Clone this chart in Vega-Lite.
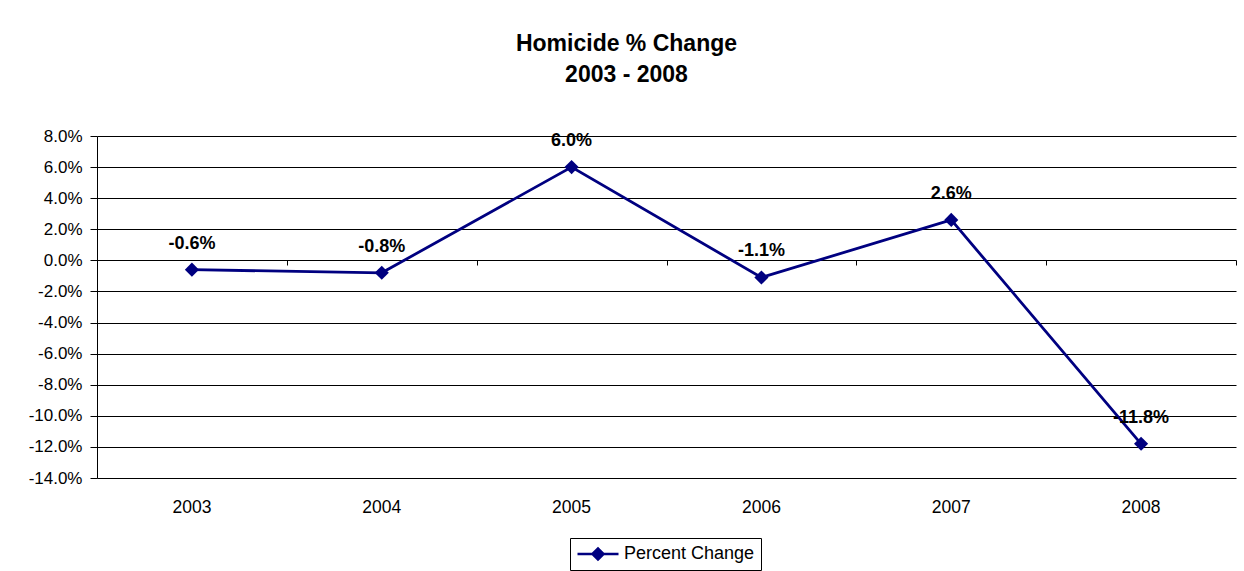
{
  "$schema": "https://vega.github.io/schema/vega-lite/v6.json",
  "width": 1139,
  "height": 342,
  "autosize": {"type": "none"},
  "padding": {"left": 97, "top": 136, "right": 8, "bottom": 93},
  "background": "white",
  "config": {
    "font": "Liberation Sans",
    "view": {"stroke": null},
    "locale": {"number": {"decimal": ".", "thousands": ",", "grouping": [3], "currency": ["$", ""], "minus": "-"}},
    "axis": {"labelFont": "Liberation Sans", "labelColor": "black", "labelFontSize": 17}
  },
  "title": {
    "text": ["Homicide % Change", "2003 - 2008"],
    "font": "Liberation Sans",
    "fontSize": 23,
    "fontWeight": "bold",
    "color": "black",
    "lineHeight": 31,
    "anchor": "middle",
    "dx": -40,
    "offset": 40
  },
  "data": {
    "values": [
      {"year": "2003", "value": -0.006, "series": "Percent Change"},
      {"year": "2004", "value": -0.008, "series": "Percent Change"},
      {"year": "2005", "value": 0.060, "series": "Percent Change"},
      {"year": "2006", "value": -0.011, "series": "Percent Change"},
      {"year": "2007", "value": 0.026, "series": "Percent Change"},
      {"year": "2008", "value": -0.118, "series": "Percent Change"}
    ]
  },
  "encoding": {
    "x": {
      "field": "year",
      "type": "ordinal",
      "scale": {"type": "band", "paddingInner": 0, "paddingOuter": 0}
    },
    "y": {
      "field": "value",
      "type": "quantitative",
      "scale": {"domain": [-0.14, 0.08], "nice": false, "zero": false},
      "axis": {
        "title": null,
        "format": ".1%",
        "values": [-0.14, -0.12, -0.10, -0.08, -0.06, -0.04, -0.02, 0, 0.02, 0.04, 0.06, 0.08],
        "grid": true,
        "gridColor": "black",
        "gridOpacity": 1,
        "gridWidth": 1,
        "domainColor": "black",
        "domainWidth": 1,
        "tickColor": "black",
        "tickSize": 7,
        "labelPadding": 8,
        "labelFontSize": 17
      }
    }
  },
  "layer": [
    {
      "mark": {"type": "line", "strokeWidth": 2.8},
      "encoding": {
        "x": {
          "field": "year",
          "type": "ordinal",
          "axis": {
            "title": null,
            "orient": "bottom",
            "labelAngle": 0,
            "domain": false,
            "ticks": false,
            "labelPadding": 20,
            "labelFontSize": 17.5
          }
        },
        "color": {
          "field": "series",
          "type": "nominal",
          "scale": {"range": ["#000080"]},
          "legend": {
            "title": null,
            "orient": "none",
            "legendX": 473,
            "legendY": 402,
            "strokeColor": "black",
            "fillColor": "white",
            "padding": 6,
            "clipHeight": 20,
            "labelFontSize": 18,
            "labelColor": "black",
            "labelFont": "Liberation Sans",
            "labelOffset": 4,
            "symbolType": "M-1,0L1,0M-0.27,0L0,-0.27L0.27,0L0,0.27Z",
            "symbolSize": 1681,
            "symbolStrokeWidth": 2.5,
            "symbolFillColor": "#000080",
            "symbolStrokeColor": "#000080",
            "encode": {
              "symbols": {
                "update": {
                  "fill": {"value": "#000080"},
                  "stroke": {"value": "#000080"},
                  "strokeWidth": {"value": 2.5},
                  "opacity": {"value": 1},
                  "shape": {"value": "M-1,0L1,0M-0.27,0L0,-0.27L0.27,0L0,0.27Z"},
                  "size": {"value": 1681}
                }
              }
            }
          }
        }
      }
    },
    {
      "mark": {"type": "point", "shape": "diamond", "filled": true, "size": 200, "opacity": 1},
      "encoding": {
        "x": {
          "field": "year",
          "type": "ordinal",
          "axis": {
            "title": null,
            "orient": "bottom",
            "offset": -218,
            "labels": false,
            "domain": false,
            "ticks": true,
            "tickBand": "extent",
            "tickSize": 5,
            "tickColor": "black",
            "tickWidth": 1
          }
        },
        "color": {"field": "series", "type": "nominal", "legend": null}
      }
    },
    {
      "mark": {"type": "text", "fontSize": 18, "fontWeight": "bold", "font": "Liberation Sans", "color": "black", "dy": -26, "baseline": "middle"},
      "encoding": {
        "x": {"field": "year", "type": "ordinal", "axis": null},
        "text": {"field": "value", "type": "quantitative", "format": ".1%"}
      }
    }
  ],
  "resolve": {"axis": {"x": "independent"}}
}
